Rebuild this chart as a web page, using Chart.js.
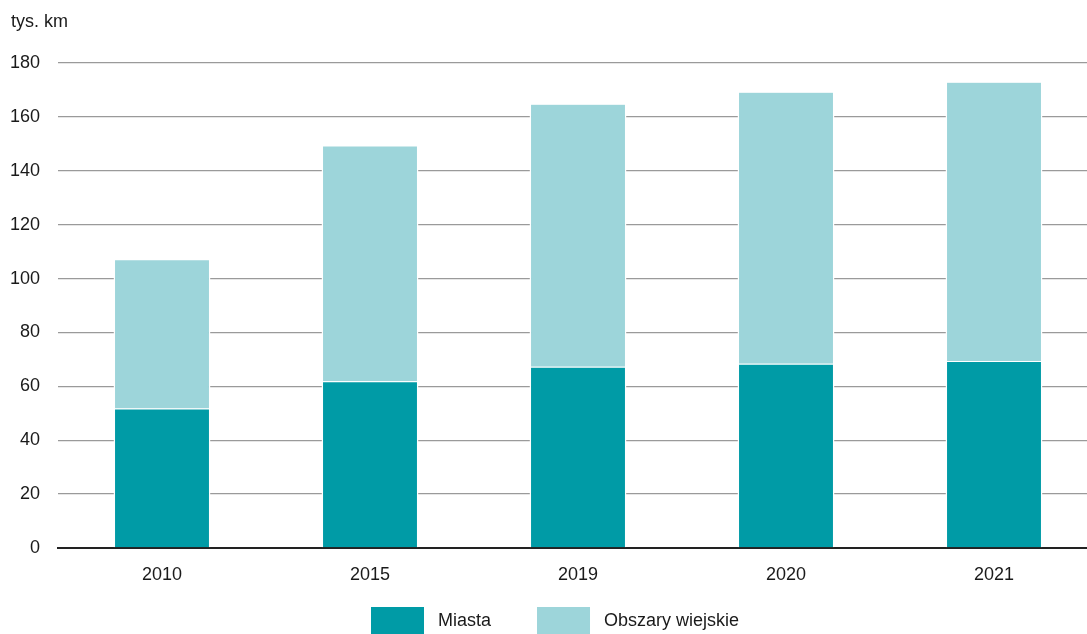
<!DOCTYPE html>
<html>
<head>
<meta charset="utf-8">
<script src="https://cdn.jsdelivr.net/npm/chart.js@4"></script>
<style>
  html, body { margin: 0; padding: 0; background: #fff; overflow: hidden; }
  #wrap { position: absolute; left: 0; top: 0; width: 1100px; height: 634px; }
</style>
</head>
<body>
<div id="wrap"><canvas id="c"></canvas></div>
<script>
const categories = ['2010', '2015', '2019', '2020', '2021'];
const miasta = [51.8, 61.9, 67.3, 68.4, 69.4];
const obszaryWiejskie = [55.2, 87.3, 97.4, 100.7, 103.5];
const seriesNames = ['Miasta', 'Obszary wiejskie'];
const unitLabel = 'tys. km';
const yTicks = [0, 20, 40, 60, 80, 100, 120, 140, 160, 180];

const COL_DARK = '#009ba6';
const COL_LIGHT = '#9dd5da';
const FONT = '"Liberation Sans", Arial, sans-serif';

const extras = {
  id: 'extras',
  afterDraw(chart) {
    const ctx = chart.ctx;
    ctx.save();
    ctx.font = '18px ' + FONT;
    ctx.fillStyle = '#1a1a1a';
    ctx.textBaseline = 'alphabetic';
    ctx.textAlign = 'left';
    ctx.fillText(unitLabel, 11, 27);
    // legend
    const colors = [COL_DARK, COL_LIGHT];
    let x = 371;
    const boxW = 53, boxH = 27, boxY = 607;
    ctx.textBaseline = 'middle';
    seriesNames.forEach((name, i) => {
      ctx.fillStyle = colors[i];
      ctx.fillRect(x, boxY, boxW, boxH);
      ctx.fillStyle = '#1a1a1a';
      ctx.fillText(name, x + boxW + 14, boxY + boxH / 2 + 1);
      x += boxW + 14 + ctx.measureText(name).width + 46;
    });
    ctx.restore();
  }
};

new Chart(document.getElementById('c'), {
  type: 'bar',
  data: {
    labels: categories,
    datasets: [
      {
        label: seriesNames[0], data: miasta, backgroundColor: COL_DARK,
        borderColor: '#ffffff', borderWidth: {top: 1, left: 1.5, right: 1.5, bottom: 0},
        borderSkipped: false,
        barPercentage: 0.466, categoryPercentage: 1
      },
      {
        label: seriesNames[1], data: obszaryWiejskie, backgroundColor: COL_LIGHT,
        borderColor: '#ffffff', borderWidth: {top: 0.5, left: 1.5, right: 1.5, bottom: 0},
        borderSkipped: false,
        barPercentage: 0.466, categoryPercentage: 1
      }
    ]
  },
  options: {
    responsive: true,
    maintainAspectRatio: false,
    animation: false,
    layout: { padding: { top: 63, right: 2, left: 0, bottom: 0 } },
    plugins: { legend: { display: false }, tooltip: { enabled: false }, title: { display: false } },
    scales: {
      x: {
        stacked: true,
        grid: { display: false, drawTicks: false },
        border: { display: true, color: '#222222', width: 2 },
        ticks: { color: '#1a1a1a', font: { family: FONT, size: 18 }, padding: 16, maxRotation: 0 },
        afterFit(s) { s.height = 86; }
      },
      y: {
        stacked: true,
        min: 0, max: 180,
        afterBuildTicks(s) { s.ticks = yTicks.map(v => ({ value: v })); },
        grid: {
          drawTicks: false,
          color: (c) => c.tick && c.tick.value === 0 ? 'rgba(0,0,0,0)' : '#9a9a9a',
          lineWidth: 1.3
        },
        border: { display: false },
        ticks: { color: '#1a1a1a', font: { family: FONT, size: 18 }, padding: 18 },
        afterFit(s) { s.width = 58; }
      }
    }
  },
  plugins: [extras]
});
</script>
</body>
</html>
